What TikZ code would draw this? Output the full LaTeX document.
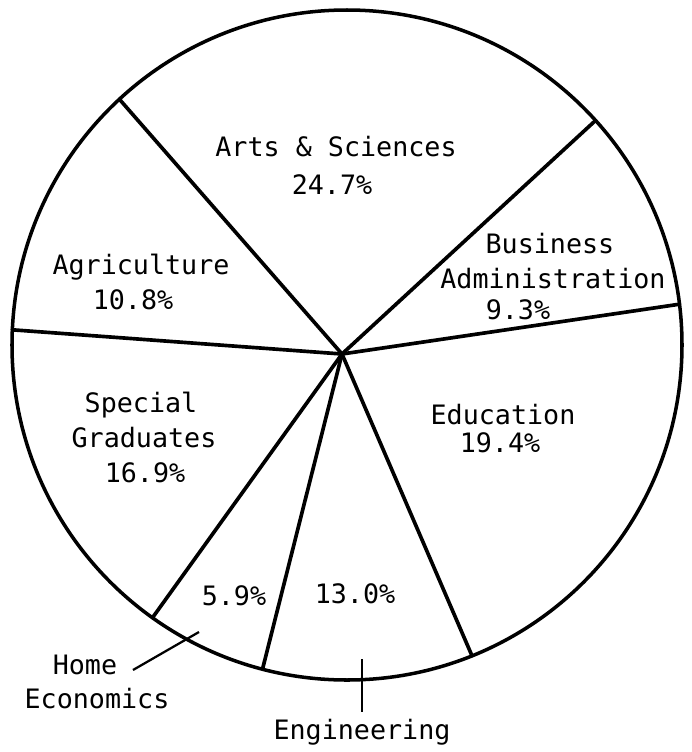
\documentclass[tikz,border=0pt]{standalone}
\usepackage{fontspec}
\setmainfont{DejaVu Sans Mono}
\usepackage{tikz}
\tikzstyle{lbl} = [font=\fontsize{19}{23}\selectfont, anchor=base, inner sep=0pt]
\tikzstyle{spoke} = [line width=2.6pt, line cap=round]
\tikzstyle{rim} = [line width=2.5pt]
\tikzstyle{leader} = [line width=1.6pt]

\begin{document}
\begin{tikzpicture}[x=0.025cm, y=-0.025cm]

    \useasboundingbox (0,0) rectangle (692,752);

    \coordinate (mid) at (347,345);
    \coordinate (o) at (342,354);

    \coordinate (r1) at (119.4,99.2);
    \coordinate (r2) at (595.6,120.4);
    \coordinate (r3) at (679.5,304.2);
    \coordinate (r4) at (472.0,655.8);
    \coordinate (r5) at (262.5,669.2);
    \coordinate (r6) at (152.5,617.7);
    \coordinate (r7) at (12.3,329.8);

    \draw[rim] (mid) circle [radius=335];

    \foreach \p in {r1,r2,r3,r4,r5,r6,r7}
        \draw[spoke] (o) -- (\p);

    \node (arts) [lbl] at (336,156) {Arts \& Sciences};
    \node (artsp) [lbl] at (332,194) {24.7\%};

    \node (bus) [lbl] at (550,253) {Business};
    \node (busadm) [lbl] at (553,288) {Administration};
    \node (busp) [lbl] at (518,319) {9.3\%};

    \node (agr) [lbl] at (141,274) {Agriculture};
    \node (agrp) [lbl] at (133,309) {10.8\%};

    \node (spec) [lbl] at (141,412) {Special};
    \node (grad) [lbl] at (144,447) {Graduates};
    \node (specp) [lbl] at (145,482) {16.9\%};

    \node (edu) [lbl] at (503,424) {Education};
    \node (edup) [lbl] at (500,452) {19.4\%};

    \node (homep) [lbl] at (234,605) {5.9\%};
    \node (engp) [lbl] at (355,603) {13.0\%};

    \node (home) [lbl] at (85,674) {Home};
    \node (econ) [lbl] at (97,708) {Economics};
    \node (eng) [lbl] at (362,739) {Engineering};

    \coordinate (homeTail) at (133,670);
    \coordinate (homeEnd) at (199,632);
    \coordinate (engTop) at (362,659);
    \coordinate (engBot) at (362,712);

    \draw[leader] (homeTail) -- (homeEnd);
    \draw[leader] (engTop) -- (engBot);

\end{tikzpicture}
\end{document}
